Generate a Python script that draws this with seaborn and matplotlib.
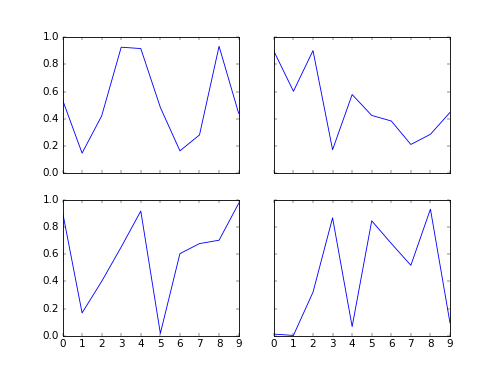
import matplotlib
matplotlib.use("Agg")
import matplotlib.pyplot as plt
import seaborn as sns
import pandas as pd

x = list(range(10))
top_left = [0.54, 0.146, 0.42, 0.927, 0.917, 0.483, 0.163, 0.28, 0.934, 0.44]
top_right = [0.898, 0.602, 0.902, 0.171, 0.578, 0.424, 0.383, 0.21, 0.285, 0.446]
bottom_left = [0.914, 0.168, 0.40, 0.654, 0.919, 0.017, 0.605, 0.679, 0.704, 0.975]
bottom_right = [0.012, 0.002, 0.321, 0.869, 0.067, 0.847, 0.68, 0.519, 0.933, 0.094]

plt.style.use("classic")

fig, axes = plt.subplots(2, 2, sharex=True, sharey=True, figsize=(8, 5.968), dpi=62.5)
fig.patch.set_facecolor("white")

series = [top_left, top_right, bottom_left, bottom_right]
for ax, vals in zip(axes.flat, series):
    df = pd.DataFrame({"x": x, "y": vals})
    sns.lineplot(data=df, x="x", y="y", ax=ax, color="b", linewidth=1.0, legend=False)
    ax.set_xlabel("")
    ax.set_ylabel("")
    ax.set_xlim(0, 9)
    ax.set_ylim(0, 1)
    ax.set_xticks(range(10))
    ax.set_yticks([0.0, 0.2, 0.4, 0.6, 0.8, 1.0])

fig.savefig("out.png", dpi=62.5, facecolor="white")
